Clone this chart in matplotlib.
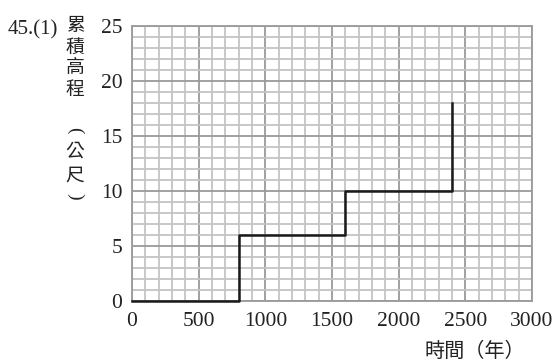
import matplotlib
matplotlib.use('Agg')
import matplotlib.pyplot as plt
import numpy as np

plt.rcParams['font.family'] = ['Liberation Serif', 'Noto Sans CJK TC']

# 累積高程 資料
years = [0, 800, 1600, 2400]
height = [0, 6, 10, 18]

x_ticks = [0, 500, 1000, 1500, 2000, 2500, 3000]
y_ticks = [0, 5, 10, 15, 20, 25]

fig = plt.figure(figsize=(5.59, 3.62), dpi=100)
ax = fig.add_axes([132 / 559, 1 - 301 / 362, 400 / 559, 275 / 362])

ax.set_xlim(0, 3000)
ax.set_ylim(0, 25)

# 格線
ax.set_xticks(x_ticks)
ax.set_yticks(y_ticks)
ax.set_xticks(np.arange(0, 3001, 100), minor=True)
ax.set_yticks(np.arange(0, 26, 1), minor=True)
ax.grid(which='minor', color='#c4c4c6', lw=1.3)
ax.grid(which='major', color='#9a9a9c', lw=1.3)
ax.set_axisbelow(True)
for s in ax.spines.values():
    s.set_color('#9a9a9c')
    s.set_linewidth(1.3)

ax.tick_params(which='both', length=0)
ax.tick_params(axis='x', pad=8, labelsize=15.5)
ax.tick_params(axis='y', pad=7, labelsize=15.5)
for lab in ax.get_xticklabels() + ax.get_yticklabels():
    lab.set_fontfamily('Liberation Serif')
    lab.set_color('#222222')

ax.plot(years, height, drawstyle='steps-post', color='#1a1a1a', lw=1.8,
        clip_on=False, zorder=5)

# 縱軸標題 (直書)
cjk = ['Noto Sans CJK TC', 'DejaVu Sans']
ylab = ['累', '積', '高', '程', None, '公', '尺', None]
ypos = [26, 47, 68, 89, 130, 151, 175, 196]
for ch, yp in zip(ylab, ypos):
    if ch is None:
        continue
    fig.text(75 / 559, 1 - yp / 362, ch, ha='center', va='center',
             fontsize=13.5, family=cjk, color='#222222')
# 直書括號
fig.text(75 / 559, 1 - ypos[4] / 362, '(', ha='center', va='center',
         fontsize=14, rotation=-90, color='#222222')
fig.text(75 / 559, 1 - ypos[7] / 362, ')', ha='center', va='center',
         fontsize=14, rotation=-90, color='#222222')

fig.text(8 / 559, 1 - 30 / 362, '45.(1)', ha='left', va='center',
         fontsize=15, color='#222222')
fig.text(425 / 559, 1 - 351 / 362, '時間（年）', ha='left', va='center',
         fontsize=14.5, family=cjk, color='#222222')

fig.savefig('out.png', dpi=100)
